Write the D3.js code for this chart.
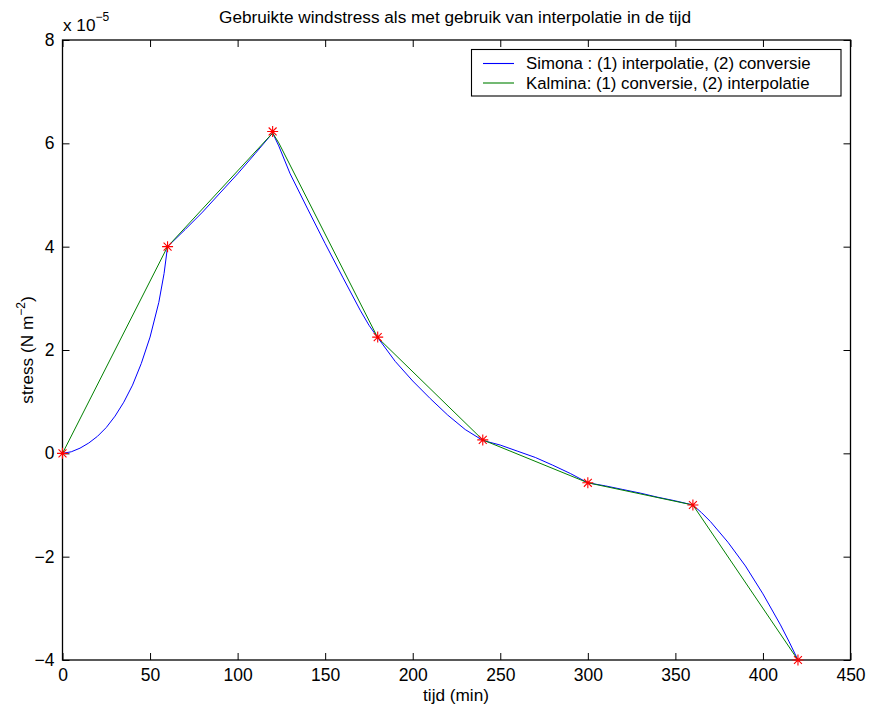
<!DOCTYPE html>
<html>
<head>
<meta charset="utf-8">
<script src="https://cdn.jsdelivr.net/npm/d3@7"></script>
<style>
  body { margin: 0; background: #fff; }
  text { font-family: "Liberation Sans", Arial, Helvetica, sans-serif; fill: #000; }
</style>
</head>
<body>
<svg id="chart" width="869" height="711"></svg>
<script>
// data (stress in units of 1e-5 N m^-2, time in minutes)
var obsTime   = [0, 60, 120, 180, 240, 300, 360, 420]
var obsStress = [0, 4.0, 6.23, 2.25, 0.26, -0.57, -1.0, -4.0]

// Kalmina: conversie first, then interpolation
var kalTime   = [0, 60, 120, 123.5, 180, 240, 300, 360, 420]
var kalStress = [0, 4.0, 6.2, 6.01, 2.24, 0.26, -0.57, -1.0, -4.0]

// Simona: interpolation first, then conversie
var simTime   = [0, 5, 10, 15, 20, 25, 30, 35, 40, 45, 50, 55, 58, 60,
                 70, 80, 90, 100, 110, 120, 123.5, 130, 140, 150, 160, 170, 175, 180,
                 190, 200, 210, 220, 230, 240, 250, 260, 270, 280, 290, 300,
                 310, 320, 330, 340, 350, 360, 365, 370, 380, 390, 400, 410, 415, 420]
var simStress = [0, 0.03, 0.1, 0.2, 0.33, 0.5, 0.72, 0.99, 1.32, 1.74, 2.25, 2.92, 3.48, 4.0,
                 4.33, 4.67, 5.04, 5.41, 5.8, 6.2, 5.95, 5.41, 4.73, 4.06, 3.41, 2.77, 2.48, 2.24,
                 1.78, 1.40, 1.06, 0.74, 0.46, 0.25, 0.16, 0.04, -0.08, -0.23, -0.39, -0.57,
                 -0.63, -0.70, -0.77, -0.85, -0.92, -1.0, -1.15, -1.32, -1.72, -2.18, -2.72, -3.32, -3.65, -4.0]

var xTicks = [0, 50, 100, 150, 200, 250, 300, 350, 400, 450]
var yTicks = [-4, -2, 0, 2, 4, 6, 8]
var legendLabels = ["Simona : (1) interpolatie, (2) conversie", "Kalmina: (1) conversie, (2) interpolatie"]
var legendColors = ["#0000ff", "#008000"]

var svg = d3.select("#chart")

var x = d3.scaleLinear().domain([0, 450]).range([62.5, 850.5])
var y = d3.scaleLinear().domain([-4, 8]).range([660, 40])

// axes, ticks pointing inward like matlab
svg.append("g")
    .attr("transform", "translate(0," + y(-4) + ")")
    .call(d3.axisBottom(x).tickValues(xTicks).tickSizeInner(-7).tickSizeOuter(0).tickPadding(8))
    .call(g => g.select(".domain").remove())
    .call(g => g.selectAll("text").attr("font-size", 17.5).attr("dy", "0.75em"))

svg.append("g")
    .attr("transform", "translate(0," + y(8) + ")")
    .call(d3.axisTop(x).tickValues(xTicks).tickSizeInner(-7).tickSizeOuter(0).tickFormat(""))
    .call(g => g.select(".domain").remove())

svg.append("g")
    .attr("transform", "translate(" + x(0) + ",0)")
    .call(d3.axisLeft(y).tickValues(yTicks).tickSizeInner(-7).tickSizeOuter(0).tickPadding(8))
    .call(g => g.select(".domain").remove())
    .call(g => g.selectAll("text").attr("font-size", 17.5))

svg.append("g")
    .attr("transform", "translate(" + x(450) + ",0)")
    .call(d3.axisRight(y).tickValues(yTicks).tickSizeInner(-7).tickSizeOuter(0).tickFormat(""))
    .call(g => g.select(".domain").remove())

svg.selectAll(".tick line").attr("stroke", "#000").attr("stroke-width", 1)

// frame
svg.append("rect")
    .attr("x", x(0)).attr("y", y(8))
    .attr("width", x(450) - x(0)).attr("height", y(-4) - y(8))
    .attr("fill", "none").attr("stroke", "#000").attr("stroke-width", 1.3)

// lines
var line = d3.line().x(d => x(d[0])).y(d => y(d[1]))

svg.append("path")
    .datum(d3.zip(simTime, simStress))
    .attr("d", line)
    .attr("fill", "none").attr("stroke", legendColors[0]).attr("stroke-width", 1)

svg.append("path")
    .datum(d3.zip(kalTime, kalStress))
    .attr("d", line)
    .attr("fill", "none").attr("stroke", legendColors[1]).attr("stroke-width", 1)

// red star markers
var r = 5.5
svg.append("g")
    .attr("stroke", "#ff0000").attr("stroke-width", 1.1).attr("fill", "none")
    .selectAll("path")
    .data(d3.zip(obsTime, obsStress))
    .enter()
    .append("path")
    .attr("d", d => {
        var cx = x(d[0]), cy = y(d[1]), k = r * 0.72
        return "M" + (cx - r) + "," + cy + "H" + (cx + r) +
               "M" + cx + "," + (cy - r) + "V" + (cy + r) +
               "M" + (cx - k) + "," + (cy - k) + "L" + (cx + k) + "," + (cy + k) +
               "M" + (cx - k) + "," + (cy + k) + "L" + (cx + k) + "," + (cy - k)
    })

// title and labels
svg.append("text")
    .attr("x", 455).attr("y", 23)
    .attr("text-anchor", "middle").attr("font-size", 17.2)
    .text("Gebruikte windstress als met gebruik van interpolatie in de tijd")

var expo = svg.append("text").attr("x", 63).attr("y", 31).attr("font-size", 17.2)
expo.append("tspan").text("x 10")
expo.append("tspan").attr("dy", -10).attr("font-size", 12).text("\u22125")

svg.append("text")
    .attr("x", 456).attr("y", 701)
    .attr("text-anchor", "middle").attr("font-size", 17.2)
    .text("tijd (min)")

var ylab = svg.append("text")
    .attr("transform", "translate(33,350) rotate(-90)")
    .attr("text-anchor", "middle").attr("font-size", 17.2)
ylab.append("tspan").text("stress (N m")
ylab.append("tspan").attr("dy", -8).attr("font-size", 12).text("\u22122")
ylab.append("tspan").attr("dy", 8).text(")")

// legend
var legend = svg.append("g")
legend.append("rect")
    .attr("x", 471.5).attr("y", 49.5).attr("width", 369.5).attr("height", 46.5)
    .attr("fill", "#fff").attr("stroke", "#000").attr("stroke-width", 1.1)

legend.selectAll("line")
    .data(legendColors)
    .enter()
    .append("line")
    .attr("x1", 483).attr("x2", 514)
    .attr("y1", (d, i) => 63.5 + i * 19.5).attr("y2", (d, i) => 63.5 + i * 19.5)
    .attr("stroke", d => d).attr("stroke-width", 1.1)

legend.selectAll("text")
    .data(legendLabels)
    .enter()
    .append("text")
    .attr("x", 526).attr("y", (d, i) => 63.5 + i * 19.5)
    .attr("dy", "0.35em").attr("font-size", 16.8)
    .text(d => d)
</script>
</body>
</html>
